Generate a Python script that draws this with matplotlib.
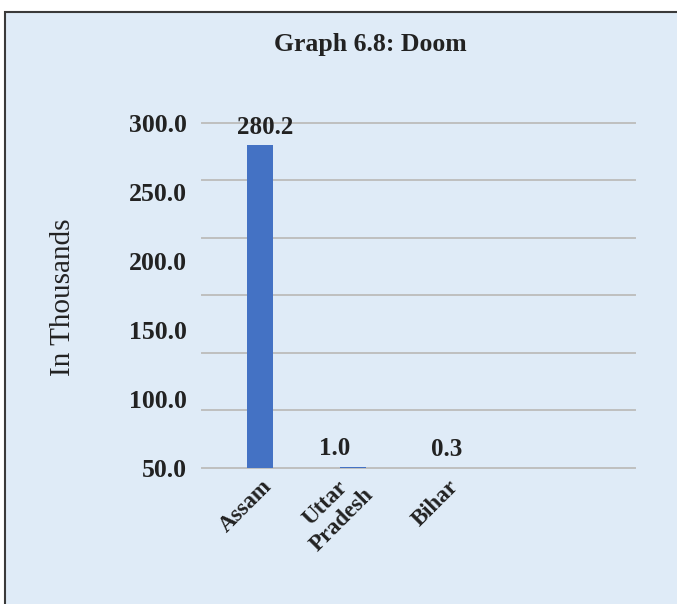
import matplotlib.pyplot as plt
import matplotlib.transforms as mtransforms
from matplotlib.patches import Rectangle

# data
states = ["Assam", "Uttar\nPradesh", "Bihar"]
values = [280.2, 1.0, 0.3]
value_labels = ["280.2", "1.0", "0.3"]
# the printed axis labels do not line up with the gridlines in the original
tick_pos = [300, 240, 180, 120, 60, 0]
tick_text = ["300.0", "250.0", "200.0", "150.0", "100.0", "50.0"]
grid_pos = [0, 50, 100, 150, 200, 250, 300]

bg = "#dfebf7"
ink = "#222222"
serif = ["Liberation Serif", "DejaVu Serif"]

fig = plt.figure(figsize=(6.77, 6.04), dpi=100)
fig.patch.set_facecolor("white")

# chart box (runs off the right and bottom edge)
box = Rectangle((5 / 677, -0.05), 1.2, (604 - 12) / 604 + 0.05,
                transform=fig.transFigure, facecolor=bg,
                edgecolor="#3a3a3a", linewidth=1.5, zorder=-5)
fig.add_artist(box)

ax = fig.add_axes([202 / 677, 136 / 604, 433 / 677, 345.3 / 604])
ax.set_zorder(2)
ax.set_facecolor("none")

x = list(range(len(states)))
bars = ax.bar(x, values, width=0.286, color="#4472c4", zorder=3)

# the data labels are a little off-centre in the original
nudge = [4, -13, 0]
for xi, v, lab, dx in zip(x, values, value_labels, nudge):
    ax.annotate(lab, (xi, v), xytext=(dx, 5),
                textcoords="offset points", ha="center", va="bottom",
                fontsize=18, fontweight="bold", family=serif, color=ink)

ax.set_xlim(-0.624, 4.03)
ax.set_ylim(0, 300)

ax.yaxis.remove_overlapping_locs = False
ax.set_yticks(tick_pos)
ax.set_yticklabels(tick_text, fontsize=18.5, fontweight="bold", family=serif,
                   color=ink)
ax.set_yticks(grid_pos, minor=True)
ax.yaxis.grid(True, which="minor", color="#bfbfbf", linewidth=1.4, zorder=4)
ax.yaxis.grid(False, which="major")
ax.tick_params(axis="y", which="both", length=0, pad=11)
for tk in ax.yaxis.get_minor_ticks():
    tk.gridline.set_clip_on(False)

ax.set_xticks(x)
ax.set_xticklabels(states, rotation=45, ha="right", va="center",
                   rotation_mode="anchor", multialignment="center",
                   fontsize=16.5, fontweight="bold", family=serif, color=ink)
ax.tick_params(axis="x", length=0, pad=11)
shift = mtransforms.ScaledTranslation(9 / 100, 0, fig.dpi_scale_trans)
for t in ax.get_xticklabels():
    t.set_transform(t.get_transform() + shift)

for s in ax.spines.values():
    s.set_visible(False)

fig.text(370 / 677, 1 - 44 / 604, "Graph 6.8: Doom", ha="center", va="center",
         fontsize=18.5, fontweight="bold", family=serif, color=ink)
fig.text(63 / 677, 1 - 297 / 604, "In Thousands", rotation=90, ha="center",
         va="center", fontsize=21, family=serif, color=ink)

fig.savefig("out.png", dpi=100, facecolor=fig.get_facecolor())
